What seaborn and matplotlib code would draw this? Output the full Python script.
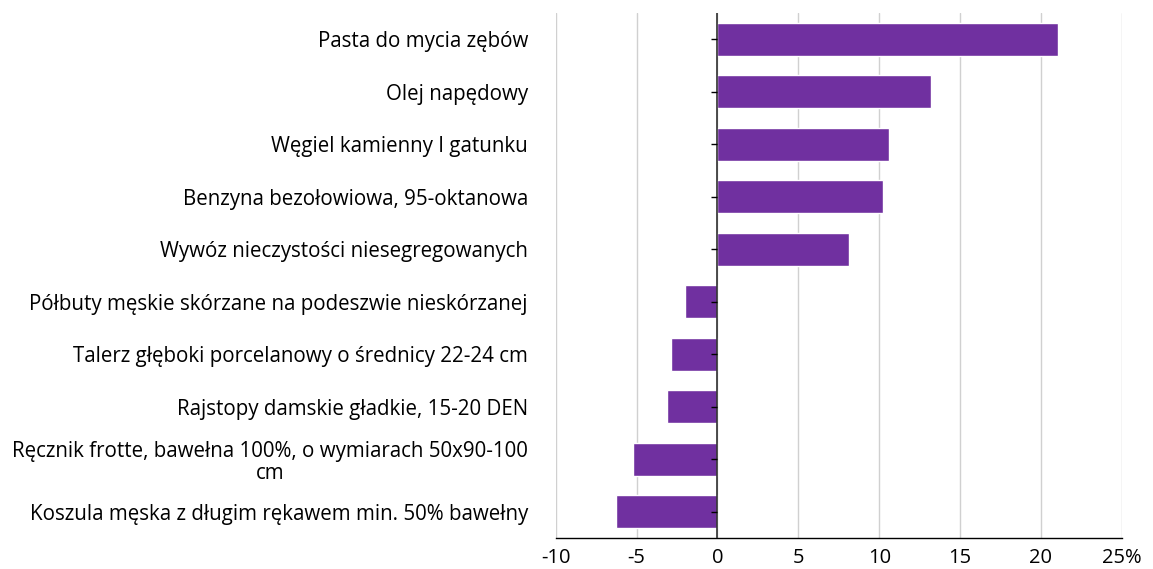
import matplotlib
matplotlib.use('Agg')
import matplotlib.pyplot as plt
import pandas as pd
import seaborn as sns

# Dane (zmiana cen, %)
products = [
    'Pasta do mycia zębów',
    'Olej napędowy',
    'Węgiel kamienny I gatunku',
    'Benzyna bezołowiowa, 95-oktanowa',
    'Wywóz nieczystości niesegregowanych',
    'Półbuty męskie skórzane na podeszwie nieskórzanej',
    'Talerz głęboki porcelanowy o średnicy 22-24 cm',
    'Rajstopy damskie gładkie, 15-20 DEN',
    'Ręcznik frotte, bawełna 100%, o wymiarach 50x90-100\ncm',
    'Koszula męska z długim rękawem min. 50% bawełny',
]
changes = [21.05, 13.2, 10.6, 10.25, 8.15, -2.0, -2.9, -3.1, -5.2, -6.25]
x_ticks = [-10, -5, 0, 5, 10, 15, 20, 25]
x_tick_labels = ['-10', '-5', '0', '5', '10', '15', '20', '25%']

df = pd.DataFrame({'product': products, 'change': changes})

sns.set_style('white')
plt.rcParams['font.family'] = ['Open Sans', 'DejaVu Sans']
plt.rcParams['text.color'] = 'black'
plt.rcParams['xtick.color'] = 'black'
plt.rcParams['ytick.color'] = 'black'

fig = plt.figure(figsize=(11.53, 5.69), dpi=100)
ax = fig.add_axes([0.482, 0.0545, 0.491, 0.9225])

sns.barplot(data=df, x='change', y='product', orient='h', color='#7030A0',
            saturation=1, width=0.63, ax=ax)

ax.set_xlim(-10, 25)
ax.set_xticks(x_ticks)
ax.set_xticklabels(x_tick_labels, fontsize=14.5)
ax.set_xlabel('')
ax.set_ylabel('')
ax.xaxis.grid(True, color='#d0d0d0', linewidth=1)
ax.set_axisbelow(True)

for side in ['top', 'right', 'left']:
    ax.spines[side].set_visible(False)
ax.spines['bottom'].set_color('black')
ax.spines['bottom'].set_linewidth(1)
ax.tick_params(axis='x', direction='out', length=6, width=1, color='black', pad=1)
ax.tick_params(axis='y', length=0, pad=20)
for lbl in ax.get_yticklabels():
    lbl.set_fontsize(14.8)
    lbl.set_multialignment('center')
    lbl.set_linespacing(1.1)

# os zerowa z krotkimi kreskami
ax.axvline(0, color='#303030', linewidth=1.2, zorder=3)
sec = ax.secondary_yaxis((0 - x_ticks[0]) / (x_ticks[-1] - x_ticks[0]))
sec.set_zorder(5)
sec.set_yticks(range(len(products)))
sec.set_yticklabels([])
sec.tick_params(axis='y', direction='out', length=4, width=1, color='black')
sec.spines['left'].set_visible(False)

fig.savefig('out.png', dpi=100)
